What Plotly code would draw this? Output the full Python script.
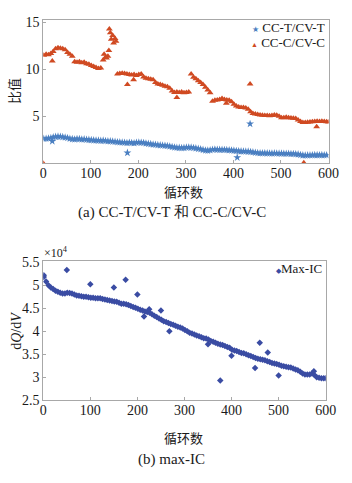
import plotly.graph_objects as go

# ---------------- data ----------------
cycles = list(range(1, 600, 5))  # 1, 6, 11, ..., 596

cct_cvt = [2.62, 2.63, 2.65, 2.70, 2.78, 2.82, 2.85, 2.83, 2.80, 2.75,
           2.70, 2.62, 2.58, 2.55, 2.60, 2.58, 2.55, 2.56, 2.52, 2.50,
           2.48, 2.45, 2.44, 2.42, 2.40, 2.42, 2.38, 2.36, 2.35, 2.32,
           2.30, 2.25, 2.24, 2.22, 2.20, 2.18, 2.20, 2.18, 2.15, 2.20,
           2.22, 2.20, 2.18, 2.12, 2.08, 2.05, 2.00, 1.98, 1.95, 1.92,
           1.90, 1.88, 1.85, 1.80, 1.75, 1.70, 1.66, 1.65, 1.63, 1.65,
           1.68, 1.70, 1.68, 1.64, 1.60, 1.55, 1.50, 1.44, 1.38, 1.36,
           1.40, 1.45, 1.48, 1.46, 1.44, 1.45, 1.43, 1.42, 1.40, 1.38,
           1.36, 1.32, 1.30, 1.28, 1.27, 1.26, 1.25, 1.22, 1.18, 1.14,
           1.10, 1.08, 1.07, 1.08, 1.07, 1.06, 1.06, 1.07, 1.06, 1.05,
           1.04, 1.03, 1.02, 1.02, 1.00, 1.00, 0.98, 0.96, 0.90, 0.85,
           0.84, 0.85, 0.86, 0.87, 0.88, 0.88, 0.87, 0.88, 0.87, 0.86]
cct_out_x = [19, 177, 408, 435]
cct_out_y = [2.35, 1.12, 0.62, 4.20]

ccc_cvc = [11.50, 11.60, 11.55, 11.70, 11.90, 12.20, 12.30, 12.25, 12.20, 12.10,
           11.80, 11.60, 11.40, 10.80, 10.75, 10.80, 10.70, 10.75, 10.60, 10.55,
           10.40, 10.30, 10.20, 10.10, 10.15, 11.00, 11.30, 11.40, 13.90, 13.60,
           13.30, 9.50, 9.55, 9.60, 9.55, 9.50, 9.45, 9.40, 9.45, 9.35,
           9.45, 9.50, 9.20, 9.05, 9.00, 8.95, 8.90, 8.60, 8.45, 8.40,
           8.30, 8.20, 8.15, 8.00, 7.70, 7.55, 7.60, 7.55, 7.60, 7.50,
           7.55, 7.60, 9.50, 9.15, 9.00, 8.80, 8.60, 8.40, 8.10, 7.80,
           7.50, 6.60, 6.70, 6.75, 6.80, 6.90, 6.80, 6.75, 6.70, 6.55,
           6.30, 6.10, 6.00, 5.95, 5.95, 5.90, 5.75, 5.50, 5.30, 5.25,
           5.20, 5.15, 5.12, 5.10, 5.10, 5.05, 5.10, 5.15, 5.12, 5.00,
           4.85, 4.85, 4.90, 4.85, 4.82, 4.80, 4.78, 4.60, 4.45, 4.35,
           4.35, 4.37, 4.40, 4.42, 4.45, 4.48, 4.45, 4.48, 4.45, 4.42]
ccc_out_x = [0, 19, 128, 133, 138, 139, 143, 148, 153, 177, 190, 281, 385, 435, 548, 575, 600]
ccc_out_y = [0.0, 10.9, 11.6, 11.2, 12.0, 14.3, 13.2, 12.8, 13.0, 8.4, 8.9, 7.0, 6.4, 8.45, 0.05, 3.9, 4.40]

max_ic = [5.18, 5.08, 5.00, 4.95, 4.92, 4.88, 4.86, 4.84, 4.82, 4.82,
          4.84, 4.83, 4.82, 4.80, 4.78, 4.77, 4.76, 4.75, 4.75, 4.74,
          4.73, 4.73, 4.72, 4.72, 4.72, 4.70, 4.69, 4.68, 4.67, 4.66,
          4.65, 4.64, 4.62, 4.60, 4.60, 4.59, 4.57, 4.55, 4.53, 4.51,
          4.49, 4.47, 4.45, 4.43, 4.42, 4.40, 4.37, 4.34, 4.31, 4.28,
          4.25, 4.22, 4.20, 4.18, 4.16, 4.14, 4.12, 4.10, 4.08, 4.06,
          4.03, 4.00, 3.97, 3.95, 3.93, 3.91, 3.89, 3.87, 3.85, 3.84,
          3.82, 3.79, 3.77, 3.75, 3.73, 3.71, 3.70, 3.68, 3.66, 3.64,
          3.60, 3.58, 3.57, 3.55, 3.53, 3.52, 3.50, 3.48, 3.46, 3.44,
          3.42, 3.40, 3.39, 3.38, 3.37, 3.35, 3.33, 3.31, 3.30, 3.29,
          3.27, 3.25, 3.24, 3.23, 3.22, 3.21, 3.19, 3.17, 3.15, 3.12,
          3.08, 3.06, 3.06, 3.06, 3.08, 3.05, 3.00, 2.99, 2.98, 2.98]
ic_out_x = [1, 50, 100, 150, 175, 200, 214, 225, 250, 268, 350, 376, 400, 450, 460, 477, 500, 575, 600]
ic_out_y = [5.22, 5.33, 5.02, 4.95, 5.12, 4.80, 4.32, 4.48, 4.45, 4.00, 3.72, 2.93, 3.47, 3.20, 3.75, 3.54, 3.04, 3.13, 2.98]

x_ticks = [0, 100, 200, 300, 400, 500, 600]
y1_ticks = [5, 10, 15]
y2_ticks = [2.5, 3, 3.5, 4, 4.5, 5, 5.5]
y2_labels = ["2.5", "3", "3.5", "4", "4.5", "5", "5.5"]

# ---------------- figure ----------------
SERIF = "Liberation Serif, Times New Roman, serif"
CJK = "Noto Sans CJK SC"
BLUE = "#4a7fc1"
RED = "#d04a22"
NAVY = "#3a4ca3"
FRAME = "#a8a8a8"
TXT = "#1a1a1a"

fig = go.Figure()
fig.add_trace(go.Scatter(
    x=cycles + cct_out_x, y=cct_cvt + cct_out_y, mode="markers", name="CC-T/CV-T",
    marker=dict(symbol="star", size=6, color=BLUE, line=dict(width=0)),
    xaxis="x", yaxis="y", showlegend=False))
fig.add_trace(go.Scatter(
    x=cycles + ccc_out_x, y=ccc_cvc + ccc_out_y, mode="markers", name="CC-C/CV-C",
    marker=dict(symbol="triangle-up", size=6, color=RED, line=dict(width=0)),
    xaxis="x", yaxis="y", showlegend=False))
fig.add_trace(go.Scatter(
    x=cycles + ic_out_x, y=max_ic + ic_out_y, mode="markers", name="Max-IC",
    marker=dict(symbol="diamond", size=5, color=NAVY, line=dict(width=0)),
    xaxis="x2", yaxis="y2", showlegend=False))

axis_common = dict(showline=True, linecolor=FRAME, linewidth=1, mirror=True,
                   showgrid=False, zeroline=False, ticks="inside", ticklen=3,
                   tickcolor=FRAME, tickfont=dict(family=SERIF, size=14, color=TXT))

fig.update_layout(
    width=352, height=483, margin=dict(l=0, r=0, t=0, b=0),
    paper_bgcolor="white", plot_bgcolor="white", showlegend=False,
    xaxis=dict(domain=[0.1165, 0.963], range=[0, 600], tickvals=x_ticks,
               anchor="y", ticklabelstandoff=-3, **axis_common),
    yaxis=dict(domain=[0.6646, 0.971], range=[0, 15.3], tickvals=y1_ticks,
               anchor="x", **axis_common),
    xaxis2=dict(domain=[0.1165, 0.9545], range=[0, 600], tickvals=x_ticks,
                anchor="y2", ticklabelstandoff=-3, **axis_common),
    yaxis2=dict(domain=[0.1594, 0.4555], range=[2.5, 5.52], tickvals=y2_ticks,
                ticktext=y2_labels, anchor="x2", **axis_common),
)

ann = [
    dict(text="比值", x=10, y=88, textangle=-90, font=dict(family=CJK, size=13)),
    dict(text="循环数", x=188, y=191, font=dict(family=CJK, size=13)),
    dict(text="(a) CC-T/CV-T 和 CC-C/CV-C", x=175, y=213, font=dict(family=SERIF, size=15)),
    dict(text="d<i>Q</i>/d<i>V</i>", x=13, y=334, textangle=-90, font=dict(family=SERIF, size=14)),
    dict(text="×10<sup>4</sup>", x=54, y=254, font=dict(family=SERIF, size=12)),
    dict(text="循环数", x=188, y=444, font=dict(family=CJK, size=13)),
    dict(text="(b) max-IC", x=175, y=467, font=dict(family=SERIF, size=15)),
]
for a in ann:
    fig.add_annotation(text=a["text"], x=a["x"] / 352, y=1 - a["y"] / 483,
                       xref="paper", yref="paper", showarrow=False,
                       xanchor="center", yanchor="middle",
                       textangle=a.get("textangle", 0),
                       font=dict(color=TXT, **a["font"]))

# legend entries (symbol + name), right-aligned inside each panel
legend_items = [
    (f"<span style='color:{BLUE};font-size:8px'>★</span> CC-T/CV-T", 337, 22),
    (f"<span style='color:{RED};font-size:7px'>▲</span> CC-C/CV-C", 337, 38),
    (f"<span style='color:{NAVY};font-size:7px'>◆</span>Max-IC", 334, 270),
]
for text, x, y in legend_items:
    fig.add_annotation(text=text, x=x / 352, y=1 - y / 483, xref="paper", yref="paper",
                       showarrow=False, xanchor="right", yanchor="middle",
                       font=dict(family=SERIF, size=13, color=TXT))

fig.write_html("out.html")
